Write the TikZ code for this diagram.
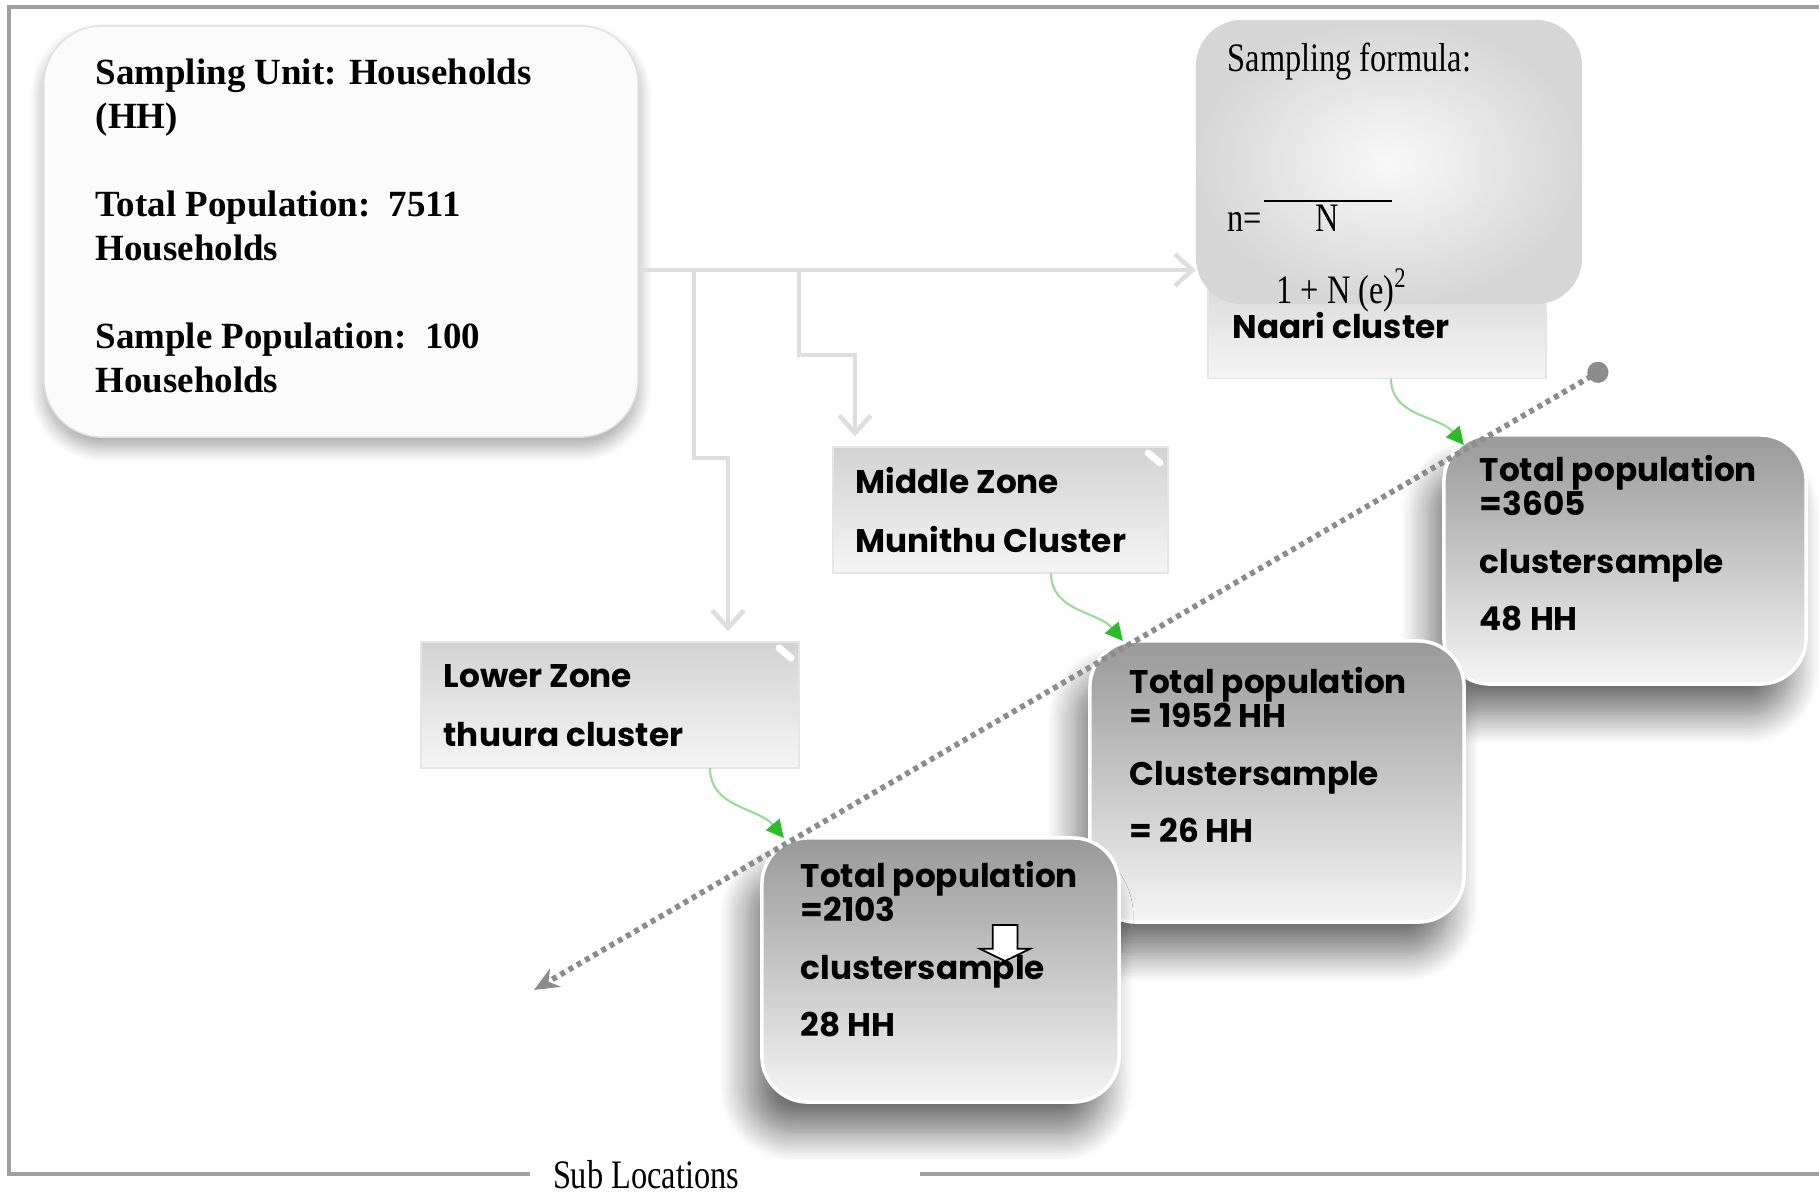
\documentclass[tikz,border=0pt]{standalone}
\usepackage{fontspec}
\setmainfont{Liberation Serif}
\newfontfamily\gothic{Poppins}
\newfontfamily\formfont[FakeStretch=0.8]{Liberation Serif}
\usepackage{tikz}
\usetikzlibrary{arrows.meta, positioning, calc, shadows.blur, shapes.arrows}
\definecolor{framegray}{RGB}{160,160,160}
\definecolor{linkgray}{RGB}{222,222,222}
\definecolor{flowgreen}{RGB}{40,190,40}
\definecolor{curvegreen}{RGB}{150,222,150}
\definecolor{dotgray}{RGB}{140,140,140}

\begin{document}
\begin{tikzpicture}[
          x=0.01cm, y=-0.01cm,
          frameline/.style={draw=framegray, line width=0.9pt},
          unitbox/.style={rectangle, draw=gray!25, fill=gray!3, rounded corners=0.58cm, outer sep=0pt, minimum width=5.94cm, minimum height=4.11cm, blur shadow={shadow xshift=0pt, shadow yshift=-3pt, shadow blur radius=4pt, shadow blur steps=15, shadow opacity=35}},
          unittext/.style={anchor=base west, align=left, inner sep=0pt, font=\fontsize{10.5}{12.5}\selectfont\bfseries},
          formulabox/.style={rectangle, rounded corners=0.46cm, outer sep=0pt, minimum width=3.86cm, minimum height=2.84cm, inner color=gray!5, outer color=gray!32},
          formtext/.style={anchor=base west, inner sep=0pt, font=\formfont\fontsize{11.5}{13}\selectfont},
          zonebox/.style={rectangle, draw=gray!20, top color=gray!35, bottom color=gray!8, outer sep=0pt, minimum height=1.26cm},
          zonetext/.style={anchor=base west, align=left, inner sep=0pt, font=\gothic\bfseries\fontsize{9.3}{16.5}\selectfont},
          clusterbox/.style={rectangle, rounded corners=0.46cm, draw=white, line width=1pt, outer sep=0pt, top color=gray!80, bottom color=gray!8, blur shadow={shadow xshift=-4pt, shadow yshift=-9pt, shadow blur radius=8pt, shadow blur steps=20, shadow opacity=55}},
          clustertext/.style={anchor=base west, align=left, inner sep=0pt, font=\gothic\bfseries\fontsize{9.3}{9.7}\selectfont},
          linkarrow/.style={draw=linkgray, line width=1.3pt, -{Straight Barb[length=5pt, width=9pt]}},
          greenarrow/.style={draw=curvegreen, line width=0.6pt, -{Triangle[length=5pt, width=5pt, color=flowgreen]}},
          axisline/.style={draw=dotgray, line width=1.6pt, dash pattern=on 1.4pt off 1.3pt, {Circle[length=6pt]}-{Stealth[length=7pt, width=6pt]}},
          hintarrow/.style={single arrow, draw=black, fill=white, line width=0.5pt, rotate=-90, inner sep=0.115cm, minimum height=0.36cm, single arrow head extend=0.13cm, single arrow tip angle=128}
        ]
          \useasboundingbox (0,0) rectangle (1819,1194);

          % Frame with legend
          \draw[frameline] (530,1174) -- (9,1174) -- (9,7) -- (1819,7);
          \draw[frameline] (920,1174) -- (1819,1174);
          \node[formtext, anchor=base] (legend) at (646,1188) {Sub Locations};

          % Sampling unit
          \node[unitbox] (unit) at (341,231.5) {};
          \node[unittext] (unittxt) at (95,392) {Sampling Unit: Households\\(HH)\\[12.5pt]Total Population:~~7511\\Households\\[12.5pt]Sample Population:~~100\\Households};

          % Zones
          \node[zonebox, minimum width=3.38cm] (naari) at (1377,315.5) {};
          \node[zonetext] (naaritxt) at (1232,338) {Naari cluster};
          \node[zonebox, minimum width=3.35cm] (middle) at (1000.5,510) {};
          \node[zonetext] (middletxt) at (855,552) {Middle Zone\\Munithu Cluster};
          \node[zonebox, minimum width=3.78cm] (lower) at (610,705) {};
          \node[zonetext] (lowertxt) at (443,746) {Lower Zone\\thuura cluster};
          \foreach \z in {middle, lower}
            \draw[white, line width=2pt, line cap=round] ($(\z.north east)+(-20,6)$) -- ($(\z.north east)+(-8,16)$);

          % Formula
          \node[formulabox] (formula) at (1389,162) {};
          \node[formtext] (formtitle) at (1227,72) {Sampling formula:};
          \node[formtext] (formn) at (1227,231) {n=};
          \node[formtext, anchor=base] (formnum) at (1327,231) {N};
          \node[formtext, anchor=base] (formden) at (1342,303) {1 + N (e)\textsuperscript{2}};
          \draw[black, line width=0.5pt] (1264,201) -- (1392,201);

          % Connections
          \coordinate (hub) at (640,270);
          \coordinate (tapL) at (694,270);
          \coordinate (tapM) at (799,270);
          \draw[linkarrow, shorten >=3pt] (tapL) |- (728,458) -- (lower.north -| 728,0);
          \draw[linkarrow, shorten >=3pt] (tapM) |- (855,355) -- (middle.north -| 855,0);
          \draw[linkarrow] (hub) -- (formula.west |- hub);

          % Cluster samples
          \node[clusterbox, minimum width=3.62cm, minimum height=2.49cm] (clusterC) at (1625,559.5) {};
          \node[clustertext] (clusterCtxt) at (1479,630) {Total population\\=3605\\[6.8pt]clustersample\\[6.3pt]48 HH};
          \node[clusterbox, minimum width=3.74cm, minimum height=2.81cm] (clusterB) at (1277,781.5) {};
          \node[clustertext] (clusterBtxt) at (1129,842) {Total population\\= 1952 HH\\[6.8pt]Clustersample\\[6.3pt]= 26 HH};
          \node[clusterbox, minimum width=3.57cm, minimum height=2.64cm] (clusterA) at (940.5,970) {};
          \node[clustertext] (clusterAtxt) at (800,1036) {Total population\\=2103\\[6.8pt]clustersample\\[6.3pt]28 HH};
          \node[hintarrow] (hint) at (1005,940) {};

          \draw[greenarrow] (lower.south -| 710,0) to[out=-90, in=130] ($(clusterA.north west)+(22,0)$);
          \draw[greenarrow] (middle.south -| 1051,0) to[out=-90, in=130] ($(clusterB.north west)+(33,0)$);
          \draw[greenarrow] (naari.south -| 1391,0) to[out=-90, in=130] ($(clusterC.north west)+(20,10)$);

          % Axis
          \coordinate (axistop) at (1607,367);
          \coordinate (axisend) at (534,990);
          \draw[axisline] (axistop) -- (axisend);
        \end{tikzpicture}
\end{document}
